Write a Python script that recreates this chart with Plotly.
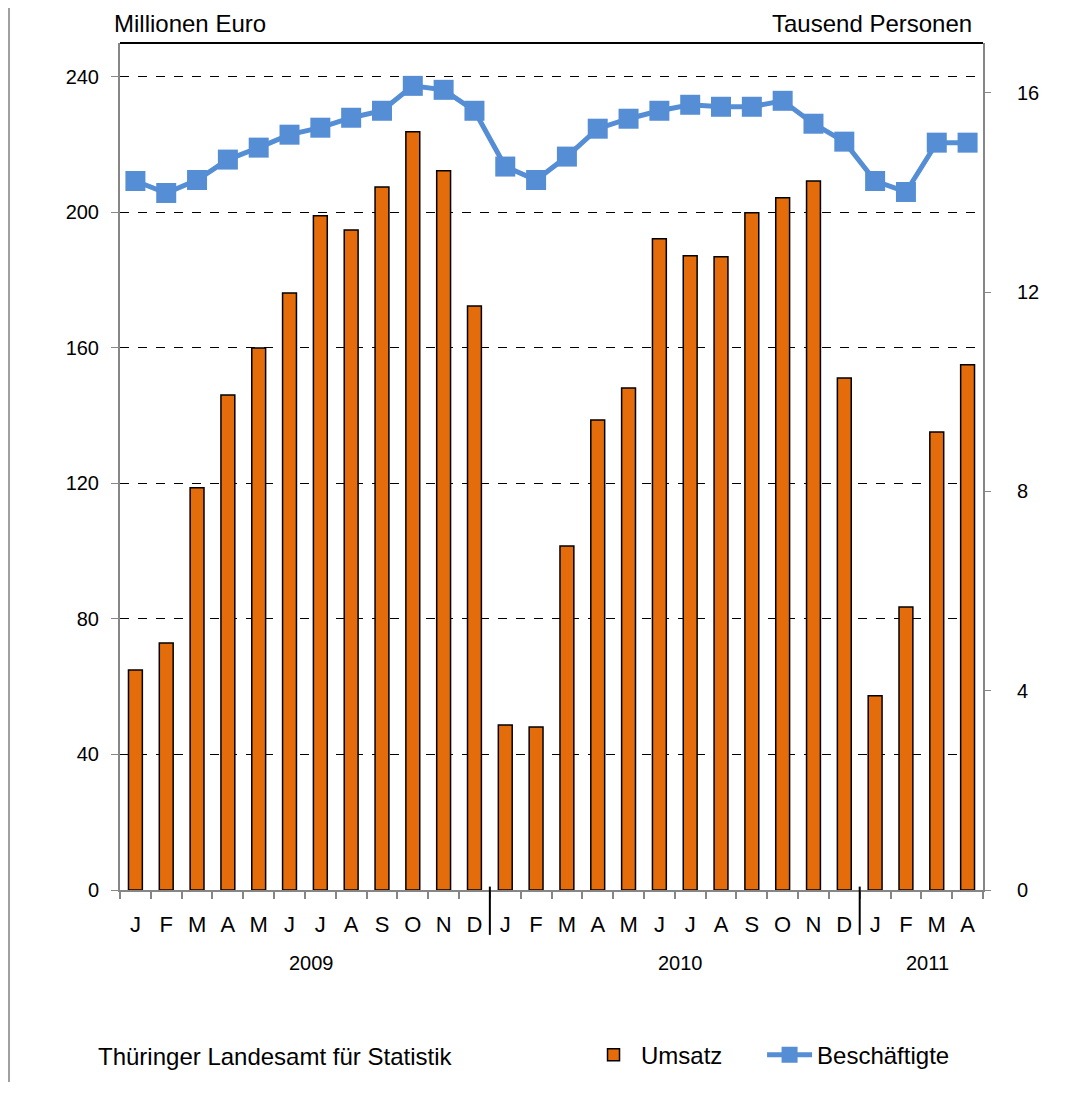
import plotly.graph_objects as go

years = ["2009"] * 12 + ["2010"] * 12 + ["2011"] * 4
months = ["J", "F", "M", "A", "M", "J", "J", "A", "S", "O", "N", "D"] * 2 + ["J", "F", "M", "A"]

umsatz = [64.9, 72.9, 118.7, 146.1, 160.0, 176.2, 199.0, 194.8, 207.5, 223.8, 212.3, 172.4,
          48.7, 48.1, 101.5, 138.7, 148.2, 192.2, 187.2, 186.9, 199.9, 204.3, 209.3, 151.1,
          57.3, 83.5, 135.2, 155.0]
beschaeftigte = [14.23, 13.99, 14.25, 14.66, 14.90, 15.16, 15.30, 15.50, 15.64, 16.14, 16.06, 15.64,
                 14.52, 14.25, 14.72, 15.28, 15.48, 15.64, 15.76, 15.72, 15.72, 15.84, 15.38, 15.02,
                 14.23, 14.01, 15.00, 15.00]

left_ticks = [0, 40, 80, 120, 160, 200, 240]
right_ticks = [0, 4, 8, 12, 16]

FONT = "Arial, Liberation Sans, sans-serif"
GRAY = "#868686"
n = len(months)
xi = list(range(n))

# year groups derived from the data
groups = []
for i, y in enumerate(years):
    if not groups or groups[-1][0] != y:
        groups.append([y, i, i])
    else:
        groups[-1][2] = i

fig = go.Figure()
fig.add_trace(go.Bar(
    x=xi, y=umsatz, name="Umsatz", width=0.45, legend="legend",
    marker=dict(color="#E46C0A", line=dict(color="black", width=1.5)),
))
fig.add_trace(go.Scatter(
    x=xi, y=beschaeftigte, name="Beschäftigte", yaxis="y2", mode="lines+markers", legend="legend2",
    line=dict(color="#558ED5", width=5),
    marker=dict(symbol="square", size=20, color="#558ED5"),
))

annotations = [
    dict(text="Millionen Euro", xref="paper", yref="paper", x=-0.009, y=1.0235,
         xanchor="left", yanchor="middle", showarrow=False, font=dict(size=24)),
    dict(text="Tausend Personen", xref="paper", yref="paper", x=0.990, y=1.0235,
         xanchor="right", yanchor="middle", showarrow=False, font=dict(size=24)),
    dict(text="Thüringer Landesamt für Statistik", xref="paper", yref="paper", x=-0.028, y=-0.197,
         xanchor="left", yanchor="middle", showarrow=False, font=dict(size=24)),
]
shapes = [
    dict(type="line", xref="paper", yref="paper", x0=0, x1=1, y0=1, y1=1,
         line=dict(color="black", width=2)),
    dict(type="line", xref="paper", yref="paper", x0=-0.1286, x1=-0.1286, y0=1.05, y1=-0.2267,
         line=dict(color="#A0A0A0", width=2)),
]
for name, a, b in groups:
    annotations.append(dict(text=name, xref="x", yref="paper", x=(a + b) / 2 + 0.2, y=-0.086,
                            xanchor="center", yanchor="middle", showarrow=False, font=dict(size=20)))
    if a > 0:
        shapes.append(dict(type="line", xref="x", yref="paper", x0=a - 0.5, x1=a - 0.5,
                           y0=0.004, y1=-0.053, line=dict(color="black", width=2)))

legend_common = dict(orientation="h", y=-0.195, xanchor="left", yanchor="middle",
                     font=dict(size=24), itemwidth=45, bgcolor="rgba(0,0,0,0)")

fig.update_layout(
    width=1069, height=1094,
    margin=dict(l=112, r=94, t=35, b=212, autoexpand=False),
    paper_bgcolor="white", plot_bgcolor="white",
    font=dict(family=FONT, size=20, color="black"),
    showlegend=True,
    legend=dict(x=0.540, **legend_common),
    legend2=dict(x=0.744, **legend_common),
    xaxis=dict(
        range=[-0.5, n - 0.5], tickvals=xi, ticktext=months, ticks="",
        showline=True, linecolor=GRAY, linewidth=2,
        minor=dict(tickvals=[i - 0.5 for i in range(n + 1)], ticks="outside", ticklen=7,
                   tickcolor=GRAY, tickwidth=1.5, showgrid=False),
        tickfont=dict(size=22), showgrid=False, zeroline=False, ticklabelstandoff=14,
    ),
    yaxis=dict(
        range=[0, 250], tickvals=left_ticks, showline=True, linecolor=GRAY, linewidth=2,
        ticks="outside", ticklen=7, tickcolor=GRAY,
        showgrid=True, gridcolor="black", griddash="dash", gridwidth=1.3,
        zeroline=False, tickfont=dict(size=20), ticklabelstandoff=8,
    ),
    yaxis2=dict(
        range=[0, 17], tickvals=right_ticks, overlaying="y", side="right",
        showline=True, linecolor=GRAY, linewidth=2,
        ticks="outside", ticklen=6, tickcolor=GRAY,
        showgrid=False, zeroline=False, tickfont=dict(size=20), ticklabelstandoff=22,
    ),
    shapes=shapes,
    annotations=annotations,
)

fig.write_html("out.html")
